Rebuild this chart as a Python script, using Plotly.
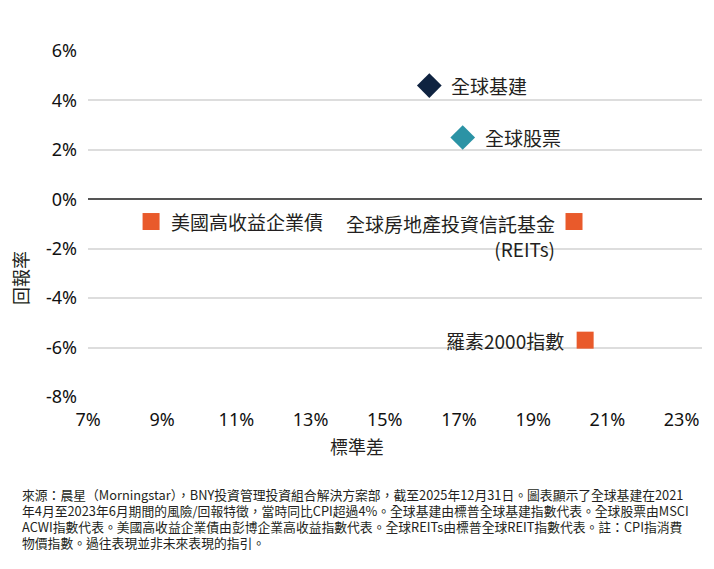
import plotly.graph_objects as go

# ---- data ----
names = ["全球基建", "全球股票", "美國高收益企業債", "全球房地產投資信託基金<br>(REITs)", "羅素2000指數"]
std_dev = [16.2, 17.1, 8.7, 20.1, 20.4]      # 標準差 (%)
returns = [4.6, 2.5, -0.9, -0.9, -5.7]       # 回報率 (%)
symbols = ["diamond", "diamond", "square", "square", "square"]
colors = ["#0f2340", "#2b93a5", "#e95a2b", "#e95a2b", "#e95a2b"]
sizes = [19, 19, 17, 17, 17]
label_side = ["right", "right", "right", "left", "left"]
label_gap = [20, 20, 18, 17, 19]

x_ticks = [7, 9, 11, 13, 15, 17, 19, 21, 23]
y_ticks = [6, 4, 2, 0, -2, -4, -6, -8]

footnote_lines = [
    "來源：晨星（Morningstar），BNY投資管理投資組合解決方案部，截至2025年12月31日。圖表顯示了全球基建在2021",
    "年4月至2023年6月期間的風險/回報特徵，當時同比CPI超過4%。全球基建由標普全球基建指數代表。全球股票由MSCI",
    "ACWI指數代表。美國高收益企業債由彭博企業高收益指數代表。全球REITs由標普全球REIT指數代表。註：CPI指消費",
    "物價指數。過往表現並非未來表現的指引。",
]

W, H = 714, 569
ML, MR, MT, MB = 88, 12, 51, 172
PW = W - ML - MR
PH = H - MT - MB

CJK = "Noto Sans CJK TC, Noto Sans, sans-serif"
TXT = "#231f20"

fig = go.Figure()
fig.add_trace(go.Scatter(
    x=std_dev, y=returns, mode="markers",
    marker=dict(symbol=symbols, color=colors, size=sizes, opacity=1, line=dict(width=0)),
    hoverinfo="skip", showlegend=False,
))

annotations = []
for n, x, y, side, gap in zip(names, std_dev, returns, label_side, label_gap):
    multi = "<br>" in n
    annotations.append(dict(
        x=x, y=y, xref="x", yref="y", text=n, showarrow=False,
        xanchor="left" if side == "right" else "right",
        yanchor="top" if multi else "middle",
        yshift=14 if multi else 0,
        xshift=gap if side == "right" else -gap,
        align="right" if side == "left" else "left",
        font=dict(family=CJK, size=19, color=TXT),
    ))

def px_x(p):
    return (p - ML) / PW

def px_y(p):
    return 1 - (p - MT) / PH

# axis titles
annotations.append(dict(text="標準差", x=px_x(357), y=px_y(446), xref="paper", yref="paper",
                        showarrow=False, xanchor="center", yanchor="middle",
                        font=dict(family=CJK, size=18, color=TXT)))
annotations.append(dict(text="回報率", x=px_x(20), y=px_y(278), xref="paper", yref="paper",
                        showarrow=False, xanchor="center", yanchor="middle", textangle=-90,
                        font=dict(family=CJK, size=18, color=TXT)))
# footnote, one annotation per line
for i, line in enumerate(footnote_lines):
    annotations.append(dict(text=line, x=px_x(21), y=px_y(494 + i * 16), xref="paper", yref="paper",
                            showarrow=False, xanchor="left", yanchor="middle", align="left",
                            borderpad=0,
                            font=dict(family=CJK, size=12.8, color=TXT)))

tick_font = dict(family="Noto Sans, sans-serif", size=18, color="#111111")

fig.update_layout(
    width=W, height=H,
    margin=dict(l=ML, r=MR, t=MT, b=MB),
    paper_bgcolor="white", plot_bgcolor="white",
    annotations=annotations,
    xaxis=dict(range=[7, 23.55], tickvals=x_ticks, ticktext=[f"{v}%" for v in x_ticks],
               showgrid=False, zeroline=False, showline=False, ticks="",
               tickfont=tick_font, ticklabelstandoff=10, fixedrange=True),
    yaxis=dict(range=[-8, 6], tickvals=y_ticks, ticktext=[f"{v}%" for v in y_ticks],
               showgrid=True, gridcolor="#dddddd", gridwidth=2,
               zeroline=True, zerolinecolor="#555555", zerolinewidth=1.5,
               showline=False, ticks="",
               tickfont=tick_font, ticklabelstandoff=10, fixedrange=True),
)

fig.write_html("out.html")
